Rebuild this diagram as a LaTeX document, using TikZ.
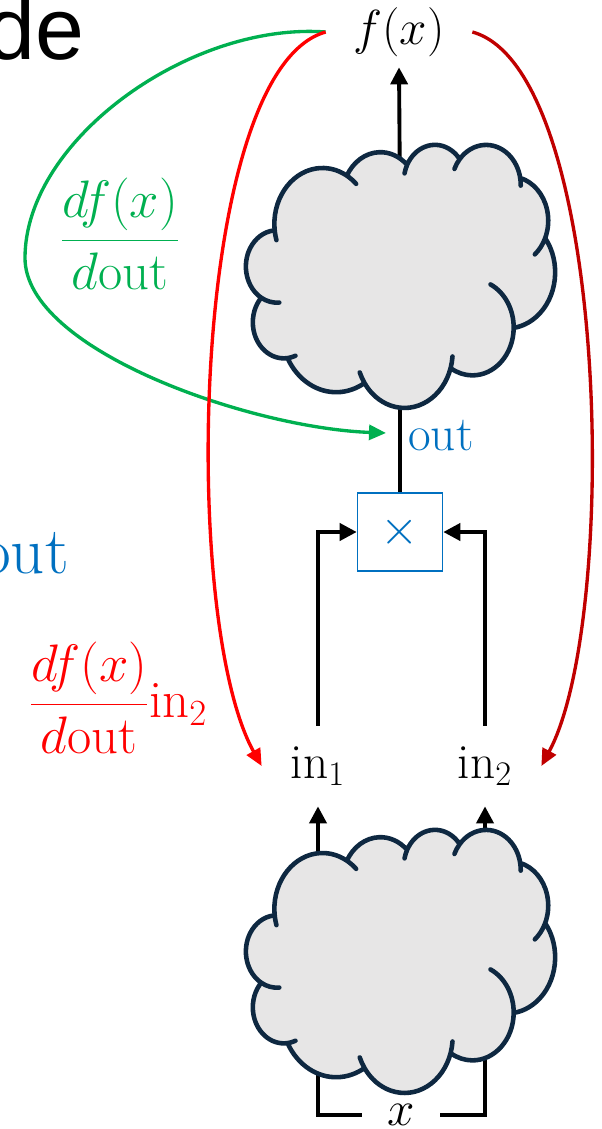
\RequirePackage{fix-cm}
\documentclass[tikz,border=0pt]{standalone}
\usepackage{fontspec}
\usetikzlibrary{arrows.meta}
\newfontfamily\arialfont{Liberation Sans}
\definecolor{opblue}{HTML}{0070C0}
\definecolor{gradgreen}{HTML}{00B050}
\definecolor{gradred}{HTML}{FF0000}
\definecolor{gradredd}{HTML}{C00000}
\definecolor{cloudfill}{HTML}{E7E6E6}
\definecolor{cloudline}{HTML}{0E2841}
% one lobe of the cloud, angles as seen on the ellipse
\newcommand\lobe[4]{arc[start angle={vis(#3,#1,#2)}, end angle={vis((#3)+(#4),#1,#2)}, x radius=#1, y radius=#2]}
% a short inner stroke: out along the lobe and back again
\newcommand\spur[4]{\lobe{#1}{#2}{#3}{#4} \lobe{#1}{#2}{(#3)+(#4)}{-(#4)}}
\newcommand\cloudpath{(39.00,143.70)
  \spur{67.53}{91.90}{-190.49}{-11.86}
  \lobe{67.53}{91.90}{-190.49}{123.78}
  \spur{67.53}{91.90}{-66.71}{12.32}
  \lobe{53.33}{72.67}{-144.10}{89.95}
  \spur{43.65}{59.45}{-145.81}{-17.68}
  \lobe{43.65}{59.45}{-145.81}{99.72}
  \spur{48.57}{65.95}{-130.99}{-18.20}
  \lobe{48.57}{65.95}{-130.99}{117.24}
  \spur{48.57}{65.95}{-13.75}{14.85}
  \lobe{53.33}{72.73}{-78.71}{109.03}
  \spur{53.33}{72.73}{30.32}{27.75}
  \lobe{67.75}{92.20}{-46.27}{130.27}
  \spur{57.85}{78.67}{0.63}{-70.92}
  \lobe{57.85}{78.67}{0.63}{114.03}
  \spur{67.52}{92.15}{22.45}{-16.00}
  \lobe{67.52}{92.15}{22.45}{115.17}
  \spur{67.52}{92.15}{137.62}{14.08}
  \lobe{77.20}{105.43}{66.24}{77.83}
  \spur{43.60}{59.18}{-274.94}{-11.45}
  \lobe{43.60}{59.18}{-274.94}{146.74}
  \spur{43.45}{59.45}{-246.83}{-26.43}
  \lobe{43.45}{59.45}{-246.83}{152.52}
  -- cycle}
\tikzset{
  wire/.style={line width=2.2pt, black},
  arr/.style={wire, -{Triangle[length=3.4mm, width=3.4mm]}},
  grad/.style={line width=1.9pt, -{Triangle[length=3.4mm, width=3mm]}},
  cloudbody/.style={fill=cloudfill, draw=cloudline, line width=2.6pt, line join=round},
  cloudat/.style={shift={#1}, xscale=0.713, yscale=0.6088},
  mathfont/.style={font=\fontsize{28}{33}\selectfont},
  fracfont/.style={font=\fontsize{30}{36}\selectfont},
  lbl/.style={mathfont, minimum width=22.4mm, minimum height=16mm, inner sep=0pt},
}
\begin{document}
\begin{tikzpicture}[x=0.2mm, y=-0.2mm,
  declare function={vis(\ang,\rx,\ry)=atan2(\rx*sin(\ang),\ry*cos(\ang))+360*round((\ang-atan2(\rx*sin(\ang),\ry*cos(\ang)))/360);}]
\useasboundingbox (0,0) rectangle (601,1129);

% cut-off slide text
\node[anchor=base east, inner sep=0pt, font=\arialfont\fontsize{50}{60}\selectfont] (detxt) at (85,60) {de};
\node[anchor=base east, inner sep=0pt, text=opblue, font=\fontsize{38}{45}\selectfont] (outtxt) at (69,573) {out};

% nodes
\node[lbl, minimum width=29.2mm, minimum height=14mm] (fx) at (399,32) {$f(x)$};
\node[lbl] (in1) at (318,766) {$\mathrm{in}_1$};
\node[lbl] (in2) at (485,766) {$\mathrm{in}_2$};
\node[mathfont, draw=opblue, line width=0.9pt, fill=white, text=opblue,
  minimum width=17mm, minimum height=15.6mm] (mul) at (400,532) {$\times$};
\node[mathfont, anchor=base west, inner sep=0pt, text=opblue] (outl) at (408,450) {out};
\node[mathfont, inner xsep=5mm] (xin) at (401,1115) {$x$};
\node[fracfont, text=gradgreen] (gfrac) at (120,234) {$\displaystyle\frac{df(x)}{d\mathrm{out}}$};
\node[fracfont, text=gradred] (rfrac) at (118,698) {$\displaystyle\frac{df(x)}{d\mathrm{out}}\mathrm{in}_2$};

\coordinate (tctop) at (400,200);
\coordinate (tcbot) at (400,370);
\coordinate (bcl) at (318,880);
\coordinate (bcr) at (485,880);
\coordinate (bcbl) at (318,1040);
\coordinate (bcbr) at (485,1040);
\coordinate (outc) at (386,433);

% wires
\draw[arr] (tctop) -- (fx.south);
\draw[wire] (tcbot) -- (mul.north);
\draw[arr] (in1.north) |- (mul.west);
\draw[arr] (in2.north) |- (mul.east);
\draw[arr] (bcl) -- (in1.south);
\draw[arr] (bcr) -- (in2.south);
\draw[wire] (bcbl) |- (xin.west);
\draw[wire] (bcbr) |- (xin.east);

% clouds
\path[cloudbody, cloudat={(247,144)}] \cloudpath;
\path[cloudbody, cloudat={(247,829)}] \cloudpath;

% gradients
\draw[grad, gradgreen] (fx.west) .. controls (190,22) and (25,140) .. (25,258)
  .. controls (25,350) and (250,428) .. (outc);
\draw[grad, gradred] (fx.west) .. controls (190,70) and (180,620) .. (in1.west);
\draw[grad, gradredd] (fx.east) .. controls (610,70) and (620,620) .. (in2.east);
\end{tikzpicture}
\end{document}
